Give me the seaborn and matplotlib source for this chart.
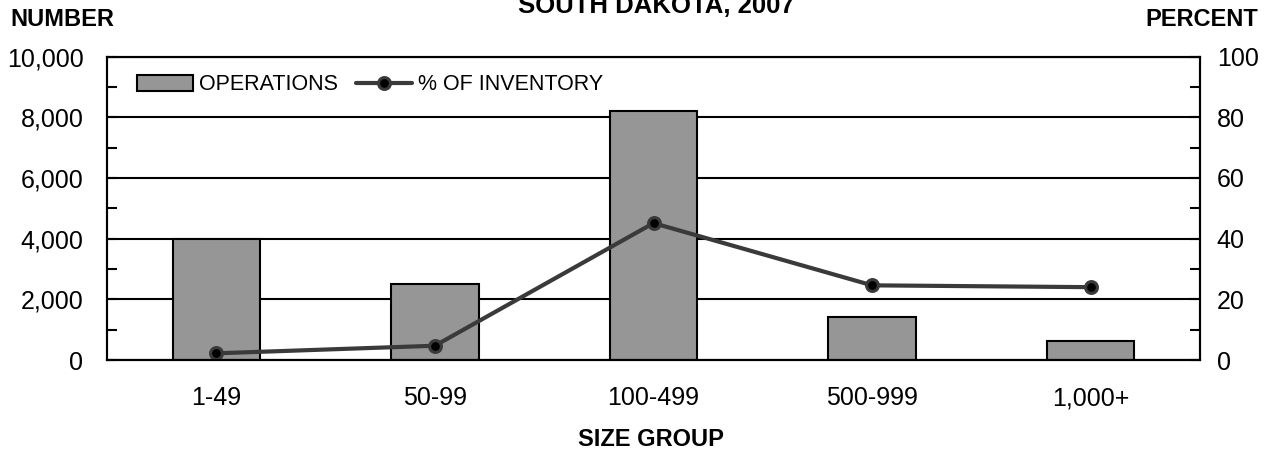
import matplotlib
matplotlib.use("Agg")
import matplotlib.pyplot as plt
import seaborn as sns
import pandas as pd
from matplotlib.ticker import MultipleLocator, FuncFormatter

# values
size_groups = ["1-49", "50-99", "100-499", "500-999", "1,000+"]
operations = [4000, 2520, 8200, 1410, 630]
pct_inventory = [2.2, 4.7, 45.1, 24.6, 24.0]

df = pd.DataFrame({"size_group": size_groups, "operations": operations, "pct": pct_inventory})

sns.set_theme(style="white")
plt.rcParams["font.family"] = ["Liberation Sans", "DejaVu Sans"]
plt.rcParams["text.color"] = "black"

W, H = 1270, 453
fig = plt.figure(figsize=(12.7, 4.53), dpi=100)
ax = fig.add_axes([107 / W, 1 - 360 / H, (1200 - 107) / W, (360 - 56.5) / H])
ax2 = ax.twinx()

sns.barplot(data=df, x="size_group", y="operations", order=size_groups,
            color="#969696", saturation=1, width=0.4, edgecolor="black",
            linewidth=1.5, ax=ax, label="OPERATIONS")
sns.pointplot(data=df, x="size_group", y="pct", order=size_groups,
              color="#3a3a3a", errorbar=None, markers="o", ax=ax2,
              label="% OF INVENTORY", linewidth=3, markersize=8.5)
for ln in ax2.lines:
    ln.set_markerfacecolor("black")
    ln.set_markeredgecolor("#3a3a3a")

# left axis
ax.set_xlim(-0.5, 4.5)
ax.set_ylim(0, 10000)
ax.yaxis.set_major_locator(MultipleLocator(2000))
ax.yaxis.set_minor_locator(MultipleLocator(1000))
ax.yaxis.set_major_formatter(FuncFormatter(lambda v, p: f"{v:,.0f}"))
ax.grid(axis="y", which="major", color="black", linewidth=1.5)
ax.grid(axis="x", visible=False)
ax.set_axisbelow(True)
ax.tick_params(axis="y", which="both", direction="in", length=7, width=1.5,
               labelsize=18, pad=17, labelcolor="black", color="black", left=True)
ax.tick_params(axis="x", length=0, labelsize=18, pad=19, labelcolor="black")
ax.set_xlabel("")
ax.set_ylabel("")

# right axis
ax2.set_ylim(0, 100)
ax2.yaxis.set_major_locator(MultipleLocator(20))
ax2.yaxis.set_minor_locator(MultipleLocator(10))
ax2.grid(False)
ax2.tick_params(axis="y", which="both", direction="in", length=7, width=1.5,
                labelsize=18, pad=12, labelcolor="black", color="black", right=True)
ax2.set_ylabel("")
ax2.set_xlim(-0.5, 4.5)

for a in (ax, ax2):
    for s in a.spines.values():
        s.set_visible(True)
        s.set_color("black")
        s.set_linewidth(1.5)

h1, l1 = ax.get_legend_handles_labels()
h2, l2 = ax2.get_legend_handles_labels()
if ax.get_legend() is not None:
    ax.get_legend().remove()
ax2.legend(h1 + h2, l1 + l2, loc="center left",
           bbox_to_anchor=(30 / 1093, 1 - (85 - 56.5) / 303.5), ncol=2,
           frameon=False, fontsize=15.5, handlelength=2.6, handletextpad=0.3,
           columnspacing=0.8, borderpad=0, borderaxespad=0, labelcolor="black")

fig.text(10 / W, 1 - 19.5 / H, "NUMBER", ha="left", va="center", fontsize=17, fontweight="bold")
fig.text(1258 / W, 1 - 19.5 / H, "PERCENT", ha="right", va="center", fontsize=17, fontweight="bold")
fig.text(651 / W, 1 - 440 / H, "SIZE GROUP", ha="center", va="center", fontsize=17, fontweight="bold")
# the title line is clipped at the top edge in the reference too
fig.text(656 / W, 1 - 13 / H, "SOUTH DAKOTA, 2007", ha="center", va="baseline", fontsize=18.5, fontweight="bold")

fig.savefig("out.png", dpi=100)
